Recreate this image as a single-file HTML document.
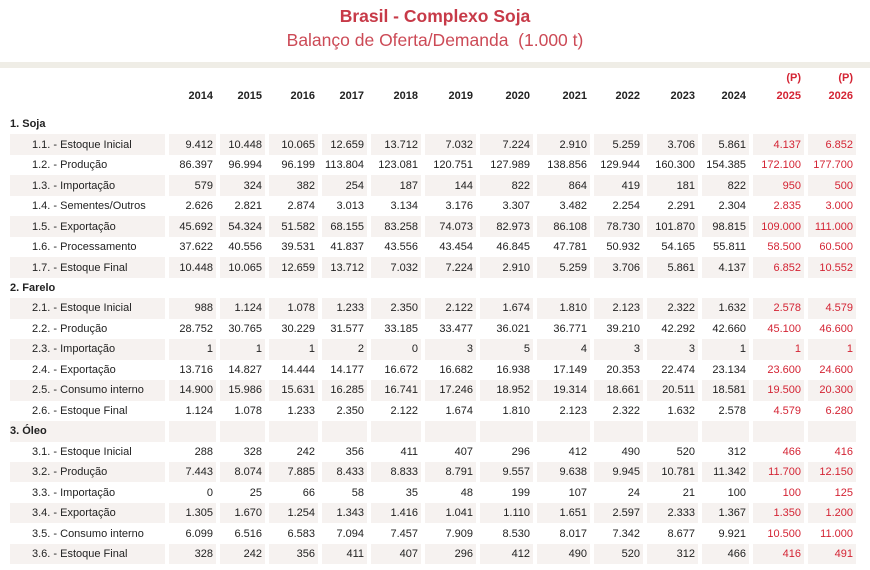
<!DOCTYPE html>
<html><head><meta charset="utf-8"><style>
body{margin:0;width:870px;height:570px;background:#fff;font-family:"Liberation Sans",sans-serif;overflow:hidden;position:relative}
.t1{position:absolute;top:6px;left:0;width:870px;text-align:center;color:#c73a48;font-weight:bold;font-size:17.5px}
.t2{position:absolute;top:30px;left:0;width:870px;text-align:center;color:#cc4a56;font-size:17.5px}
.band{position:absolute;top:62px;left:0;width:870px;height:6px;background:#efede6}
table{position:absolute;top:69px;left:6px;border-collapse:separate;border-spacing:4px 0;table-layout:fixed;font-size:11px;color:#222}
td{padding:0 3px 0 0;text-align:right;height:20.48px;white-space:nowrap;box-sizing:border-box}
td:first-child{text-align:left;padding-left:22px}
tr.h td{height:44px;font-weight:bold;vertical-align:bottom;padding-bottom:9px;line-height:18px}
tr.sec td:first-child{font-weight:bold;padding-left:0}
tr.s td{background:#f6f2f0}
td.r{color:#d42434}
</style></head><body>
<div class="t1">Brasil - Complexo Soja</div>
<div class="t2">Balanço de Oferta/Demanda&nbsp; (1.000 t)</div>
<div class="band"></div>
<table>
<colgroup><col style="width:155px"><col style="width:47px"><col style="width:45px"><col style="width:49px"><col style="width:45px"><col style="width:50px"><col style="width:51px"><col style="width:53px"><col style="width:53px"><col style="width:49px"><col style="width:51px"><col style="width:47px"><col style="width:51px"><col style="width:48px"></colgroup>
<tr class="h"><td></td><td>2014</td><td>2015</td><td>2016</td><td>2017</td><td>2018</td><td>2019</td><td>2020</td><td>2021</td><td>2022</td><td>2023</td><td>2024</td><td class="r">(P)<br>2025</td><td class="r">(P)<br>2026</td></tr>
<tr class="sec"><td>1. Soja</td><td></td><td></td><td></td><td></td><td></td><td></td><td></td><td></td><td></td><td></td><td></td><td></td><td></td></tr>
<tr class="s"><td>1.1. - Estoque Inicial</td><td>9.412</td><td>10.448</td><td>10.065</td><td>12.659</td><td>13.712</td><td>7.032</td><td>7.224</td><td>2.910</td><td>5.259</td><td>3.706</td><td>5.861</td><td class="r">4.137</td><td class="r">6.852</td></tr>
<tr><td>1.2. - Produção</td><td>86.397</td><td>96.994</td><td>96.199</td><td>113.804</td><td>123.081</td><td>120.751</td><td>127.989</td><td>138.856</td><td>129.944</td><td>160.300</td><td>154.385</td><td class="r">172.100</td><td class="r">177.700</td></tr>
<tr class="s"><td>1.3. - Importação</td><td>579</td><td>324</td><td>382</td><td>254</td><td>187</td><td>144</td><td>822</td><td>864</td><td>419</td><td>181</td><td>822</td><td class="r">950</td><td class="r">500</td></tr>
<tr><td>1.4. - Sementes/Outros</td><td>2.626</td><td>2.821</td><td>2.874</td><td>3.013</td><td>3.134</td><td>3.176</td><td>3.307</td><td>3.482</td><td>2.254</td><td>2.291</td><td>2.304</td><td class="r">2.835</td><td class="r">3.000</td></tr>
<tr class="s"><td>1.5. - Exportação</td><td>45.692</td><td>54.324</td><td>51.582</td><td>68.155</td><td>83.258</td><td>74.073</td><td>82.973</td><td>86.108</td><td>78.730</td><td>101.870</td><td>98.815</td><td class="r">109.000</td><td class="r">111.000</td></tr>
<tr><td>1.6. - Processamento</td><td>37.622</td><td>40.556</td><td>39.531</td><td>41.837</td><td>43.556</td><td>43.454</td><td>46.845</td><td>47.781</td><td>50.932</td><td>54.165</td><td>55.811</td><td class="r">58.500</td><td class="r">60.500</td></tr>
<tr class="s"><td>1.7. - Estoque Final</td><td>10.448</td><td>10.065</td><td>12.659</td><td>13.712</td><td>7.032</td><td>7.224</td><td>2.910</td><td>5.259</td><td>3.706</td><td>5.861</td><td>4.137</td><td class="r">6.852</td><td class="r">10.552</td></tr>
<tr class="sec"><td>2. Farelo</td><td></td><td></td><td></td><td></td><td></td><td></td><td></td><td></td><td></td><td></td><td></td><td></td><td></td></tr>
<tr class="s"><td>2.1. - Estoque Inicial</td><td>988</td><td>1.124</td><td>1.078</td><td>1.233</td><td>2.350</td><td>2.122</td><td>1.674</td><td>1.810</td><td>2.123</td><td>2.322</td><td>1.632</td><td class="r">2.578</td><td class="r">4.579</td></tr>
<tr><td>2.2. - Produção</td><td>28.752</td><td>30.765</td><td>30.229</td><td>31.577</td><td>33.185</td><td>33.477</td><td>36.021</td><td>36.771</td><td>39.210</td><td>42.292</td><td>42.660</td><td class="r">45.100</td><td class="r">46.600</td></tr>
<tr class="s"><td>2.3. - Importação</td><td>1</td><td>1</td><td>1</td><td>2</td><td>0</td><td>3</td><td>5</td><td>4</td><td>3</td><td>3</td><td>1</td><td class="r">1</td><td class="r">1</td></tr>
<tr><td>2.4. - Exportação</td><td>13.716</td><td>14.827</td><td>14.444</td><td>14.177</td><td>16.672</td><td>16.682</td><td>16.938</td><td>17.149</td><td>20.353</td><td>22.474</td><td>23.134</td><td class="r">23.600</td><td class="r">24.600</td></tr>
<tr class="s"><td>2.5. - Consumo interno</td><td>14.900</td><td>15.986</td><td>15.631</td><td>16.285</td><td>16.741</td><td>17.246</td><td>18.952</td><td>19.314</td><td>18.661</td><td>20.511</td><td>18.581</td><td class="r">19.500</td><td class="r">20.300</td></tr>
<tr><td>2.6. - Estoque Final</td><td>1.124</td><td>1.078</td><td>1.233</td><td>2.350</td><td>2.122</td><td>1.674</td><td>1.810</td><td>2.123</td><td>2.322</td><td>1.632</td><td>2.578</td><td class="r">4.579</td><td class="r">6.280</td></tr>
<tr class="sec s"><td>3. Óleo</td><td></td><td></td><td></td><td></td><td></td><td></td><td></td><td></td><td></td><td></td><td></td><td></td><td></td></tr>
<tr><td>3.1. - Estoque Inicial</td><td>288</td><td>328</td><td>242</td><td>356</td><td>411</td><td>407</td><td>296</td><td>412</td><td>490</td><td>520</td><td>312</td><td class="r">466</td><td class="r">416</td></tr>
<tr class="s"><td>3.2. - Produção</td><td>7.443</td><td>8.074</td><td>7.885</td><td>8.433</td><td>8.833</td><td>8.791</td><td>9.557</td><td>9.638</td><td>9.945</td><td>10.781</td><td>11.342</td><td class="r">11.700</td><td class="r">12.150</td></tr>
<tr><td>3.3. - Importação</td><td>0</td><td>25</td><td>66</td><td>58</td><td>35</td><td>48</td><td>199</td><td>107</td><td>24</td><td>21</td><td>100</td><td class="r">100</td><td class="r">125</td></tr>
<tr class="s"><td>3.4. - Exportação</td><td>1.305</td><td>1.670</td><td>1.254</td><td>1.343</td><td>1.416</td><td>1.041</td><td>1.110</td><td>1.651</td><td>2.597</td><td>2.333</td><td>1.367</td><td class="r">1.350</td><td class="r">1.200</td></tr>
<tr><td>3.5. - Consumo interno</td><td>6.099</td><td>6.516</td><td>6.583</td><td>7.094</td><td>7.457</td><td>7.909</td><td>8.530</td><td>8.017</td><td>7.342</td><td>8.677</td><td>9.921</td><td class="r">10.500</td><td class="r">11.000</td></tr>
<tr class="s"><td>3.6. - Estoque Final</td><td>328</td><td>242</td><td>356</td><td>411</td><td>407</td><td>296</td><td>412</td><td>490</td><td>520</td><td>312</td><td>466</td><td class="r">416</td><td class="r">491</td></tr>
</table>
</body></html>
